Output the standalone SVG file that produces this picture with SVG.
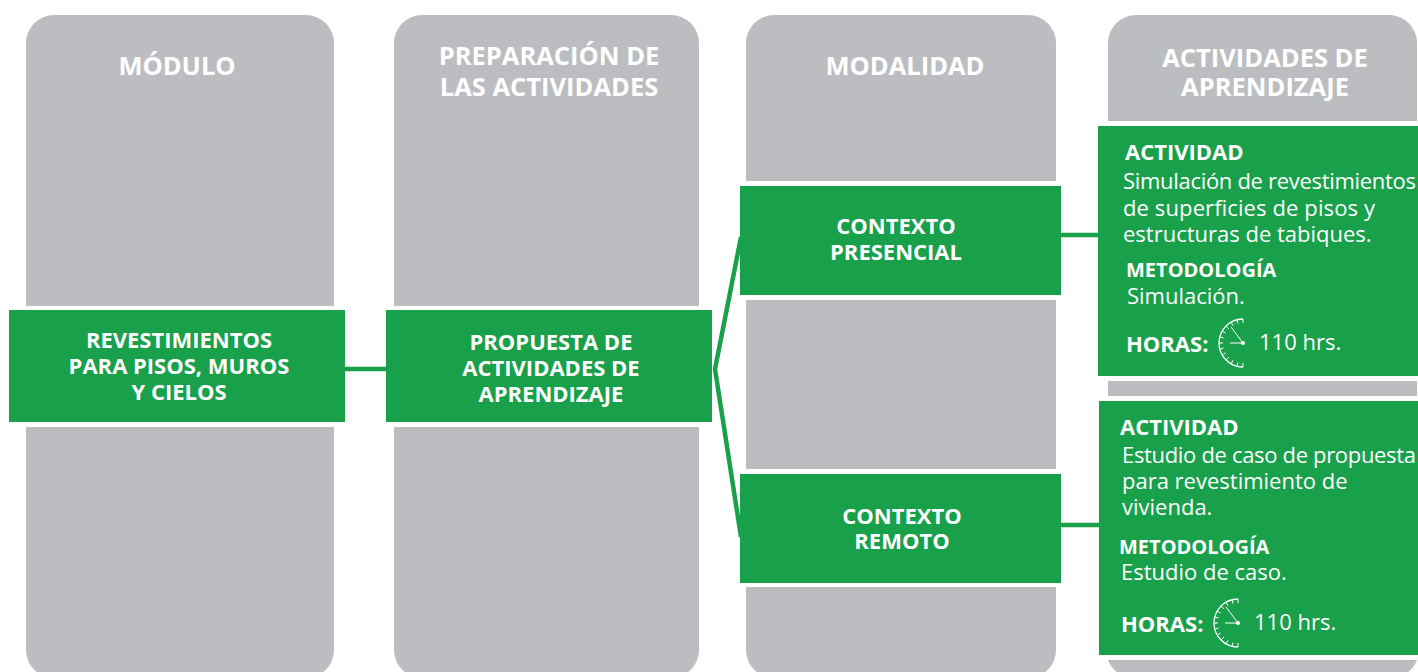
<svg xmlns="http://www.w3.org/2000/svg" xmlns:xlink="http://www.w3.org/1999/xlink" width="1418" height="672" viewBox="0 0 1418 672">
<style>
text{font-family:"Open Sans","Liberation Sans",sans-serif;fill:#fff}
.g{fill:#bcbdc0}.n{fill:#18a04b}
.h{font-size:25.5px;font-weight:700;text-anchor:middle}
.t{font-size:22px;font-weight:700;text-anchor:middle}
.b{font-size:22px;font-weight:700}
.m{font-size:20px;font-weight:700}
.r{font-size:22px}
.c{stroke:#18a04b;fill:none;stroke-width:4.5}
.k{fill:none;stroke:#fff}
</style>
<defs>
<g id="clock">
<path class="k" stroke-width="1.3" d="M0-24A24 24 0 0 0 0 24"/>
<path class="k" stroke-width="1" d="M0-24V-20M-6-23.2L-5-19.5M-12-20.8L-10-17.3M-17-17L-14-14M-20.8-12L-17.3-10M-23.2-6L-19.5-5M-24 0H-20M-23.2 6L-19.5 5M-20.8 12L-17.3 10M-17 17L-14 14M-12 20.8L-10 17.3M-6 23.2L-5 19.5M0 24V20"/>
<path class="k" stroke-width="1" d="M0 0L-12-16M0 0H-13"/>
<circle r="2" fill="#fff"/>
</g>
</defs>
<g id="col1" class="g">
<path d="M26 306V43a28 28 0 0 1 28-28H306a28 28 0 0 1 28 28V306Z"/>
<path d="M26 427H334V650a28 28 0 0 1-28 28H54a28 28 0 0 1-28-28Z"/>
</g>
<g id="col2" class="g">
<path d="M394 306V43a28 28 0 0 1 28-28H671a28 28 0 0 1 28 28V306Z"/>
<path d="M394 427H699V650a28 28 0 0 1-28 28H422a28 28 0 0 1-28-28Z"/>
</g>
<g id="col3" class="g">
<path d="M746 181V43a28 28 0 0 1 28-28H1028a28 28 0 0 1 28 28V181Z"/>
<rect x="746" y="300" width="310" height="169"/>
<path d="M746 587H1056V650a28 28 0 0 1-28 28H774a28 28 0 0 1-28-28Z"/>
</g>
<g id="col4" class="g">
<path d="M1108 121V43a28 28 0 0 1 28-28H1389a28 28 0 0 1 28 28V121Z"/>
<rect x="1108" y="381" width="309" height="15"/>
<path d="M1108 660H1417a28 28 0 0 1-28 18H1136a28 28 0 0 1-28-18Z"/>
</g>
<g id="connectors">
<path class="c" d="M345 369H386"/>
<path class="c" d="M741 237L715 369L741 537"/>
<path class="c" d="M1061 235H1098"/>
<path class="c" d="M1061 525H1099"/>
</g>
<g id="headers">
<text class="h" x="177" y="75">MÓDULO</text>
<text class="h" x="549" y="65">PREPARACIÓN DE</text>
<text class="h" x="549" y="96">LAS ACTIVIDADES</text>
<text class="h" x="905" y="75">MODALIDAD</text>
<text class="h" x="1265" y="67">ACTIVIDADES DE</text>
<text class="h" x="1265" y="96">APRENDIZAJE</text>
</g>
<g id="n-modulo">
<rect class="n" x="9" y="310" width="336" height="112"/>
<text class="t" x="179" y="348">REVESTIMIENTOS</text>
<text class="t" x="179" y="374">PARA PISOS, MUROS</text>
<text class="t" x="179" y="400">Y CIELOS</text>
</g>
<g id="n-propuesta">
<rect class="n" x="386" y="310" width="326" height="112"/>
<text class="t" x="551" y="350">PROPUESTA DE</text>
<text class="t" x="551" y="376">ACTIVIDADES DE</text>
<text class="t" x="551" y="402">APRENDIZAJE</text>
</g>
<g id="n-presencial">
<rect class="n" x="740" y="186" width="321" height="109"/>
<text class="t" x="896" y="234">CONTEXTO</text>
<text class="t" x="896" y="260">PRESENCIAL</text>
</g>
<g id="n-remoto">
<rect class="n" x="740" y="474" width="321" height="109"/>
<text class="t" x="902" y="524">CONTEXTO</text>
<text class="t" x="902" y="549">REMOTO</text>
</g>
<g id="n-actividad1">
<rect class="n" x="1098" y="126" width="320" height="250"/>
<text class="b" x="1125" y="160">ACTIVIDAD</text>
<text class="r" x="1123" y="189" textLength="293">Simulación de revestimientos</text>
<text class="r" x="1123" y="216" textLength="252">de superficies de pisos y</text>
<text class="r" x="1123" y="242">estructuras de tabiques.</text>
<text class="m" x="1126" y="277">METODOLOGÍA</text>
<text class="r" x="1127" y="304">Simulación.</text>
<text class="b" x="1126" y="352">HORAS:</text>
<use href="#clock" x="1243" y="343"/>
<text class="r" x="1259" y="350">110 hrs.</text>
</g>
<g id="n-actividad2">
<rect class="n" x="1099" y="401" width="319" height="254"/>
<text class="b" x="1120" y="435">ACTIVIDAD</text>
<text class="r" x="1122" y="463" textLength="294">Estudio de caso de propuesta</text>
<text class="r" x="1122" y="489">para revestimiento de</text>
<text class="r" x="1122" y="515">vivienda.</text>
<text class="m" x="1119" y="554">METODOLOGÍA</text>
<text class="r" x="1121" y="580">Estudio de caso.</text>
<text class="b" x="1121" y="632">HORAS:</text>
<use href="#clock" x="1238" y="623"/>
<text class="r" x="1254" y="630">110 hrs.</text>
</g>
</svg>
